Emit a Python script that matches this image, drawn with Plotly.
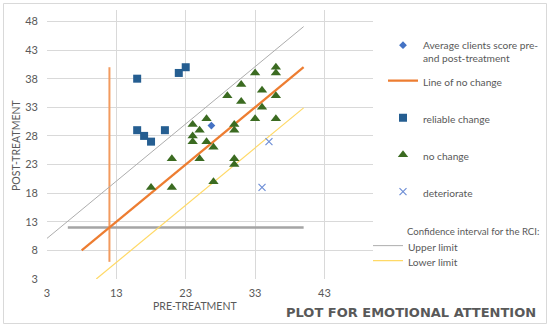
import plotly.graph_objects as go

# ---------------- data ----------------
avg_x = [26.7]
avg_y = [29.8]

reliable_x = [16, 16, 17, 18, 20, 22, 23]
reliable_y = [38, 29, 28, 27, 29, 39, 40]

nochange_x = [24, 24, 24, 25, 26, 26, 27, 29, 30, 30, 31, 31, 33, 33, 34, 34,
              36, 36, 36, 36, 21, 25, 30, 30, 27, 18, 21]
nochange_y = [30, 28, 27, 29, 31, 27, 26, 35, 30, 29, 37, 34, 39, 31, 36, 33,
              40, 39, 35, 31, 24, 24, 24, 23, 20, 19, 19]

deter_x = [35, 34]
deter_y = [27, 19]

line_nc_x = [8, 40]
line_nc_y = [8, 40]

upper_x = [3, 40]
upper_y = [10.1, 47.1]

lower_x = [10.1, 40]
lower_y = [3, 32.9]

vcut_x = [12, 12]
vcut_y = [6, 40]

hcut_x = [6, 40]
hcut_y = [12, 12]

x_ticks = [3, 13, 23, 33, 43]
y_ticks = [3, 8, 13, 18, 23, 28, 33, 38, 43, 48]

# ---------------- figure ----------------
FONT = "Lato, 'Open Sans', sans-serif"
TXT = "#595959"

W, H = 550, 327
L, R, T, B = 47, 177, 10, 48
PW, PH = W - L - R, H - T - B


def px2x(px):
    return (px - L) / PW


def px2y(py):
    return (H - B - py) / PH


fig = go.Figure()

# cut-off lines (not in legend)
fig.add_trace(go.Scatter(x=hcut_x, y=hcut_y, mode="lines",
                         line=dict(color="#A5A5A5", width=2.5),
                         showlegend=False, hoverinfo="skip"))
fig.add_trace(go.Scatter(x=vcut_x, y=vcut_y, mode="lines",
                         line=dict(color="#F29B5F", width=2),
                         showlegend=False, hoverinfo="skip"))

fig.add_trace(go.Scatter(x=upper_x, y=upper_y, mode="lines", name="Upper limit",
                         line=dict(color="#ADADAD", width=1),
                         legend="legend6"))
fig.add_trace(go.Scatter(x=lower_x, y=lower_y, mode="lines", name="Lower limit",
                         line=dict(color="#FFD966", width=1.2),
                         legend="legend7"))
fig.add_trace(go.Scatter(x=line_nc_x, y=line_nc_y, mode="lines",
                         name="Line of no change",
                         line=dict(color="#ED7D31", width=2.25),
                         legend="legend2"))

fig.add_trace(go.Scatter(x=nochange_x, y=nochange_y, mode="markers", name="no change",
                         marker=dict(symbol="triangle-up", size=9, color="#3B6B21"),
                         legend="legend4"))
fig.add_trace(go.Scatter(x=reliable_x, y=reliable_y, mode="markers", name="reliable change",
                         marker=dict(symbol="square", size=8, color="#255E91"),
                         legend="legend3"))
fig.add_trace(go.Scatter(x=deter_x, y=deter_y, mode="markers", name="deteriorate",
                         marker=dict(symbol="x-thin", size=7,
                                     line=dict(color="#6F8FD6", width=1.2)),
                         legend="legend5"))
fig.add_trace(go.Scatter(x=avg_x, y=avg_y, mode="markers",
                         name="Average clients score pre-<br>and post-treatment",
                         marker=dict(symbol="diamond", size=6, color="#4472C4"),
                         legend="legend"))

leg_font = dict(family=FONT, size=10.2, color=TXT)


def leg(xpx, ypx, **kw):
    d = dict(x=px2x(xpx), y=px2y(ypx), xanchor="left", yanchor="middle",
             bgcolor="rgba(0,0,0,0)", font=leg_font, valign="top",
             itemclick=False, itemdoubleclick=False)
    d.update(kw)
    return d


fig.update_layout(
    width=W, height=H,
    margin=dict(l=L, r=R, t=T, b=B, autoexpand=False),
    paper_bgcolor="white", plot_bgcolor="white",
    font=dict(family=FONT, color=TXT),
    legend=leg(383, 52),
    legend2=leg(383, 82),
    legend3=leg(383, 119),
    legend4=leg(383, 156),
    legend5=leg(383, 193),
    legend6=leg(368, 247),
    legend7=leg(368, 262),
    xaxis=dict(range=[3, 50], tickvals=x_ticks, showgrid=True, gridcolor="#D9D9D9",
               gridwidth=1, zeroline=False, showline=False,
               tickfont=dict(family=FONT, size=11, color=TXT), ticks="",
               ticklabelstandoff=6, automargin=False),
    yaxis=dict(range=[3, 50], tickvals=y_ticks, showgrid=True, gridcolor="#D9D9D9",
               gridwidth=1, zeroline=False, showline=False,
               tickfont=dict(family=FONT, size=11, color=TXT), ticks="",
               ticklabelstandoff=8, automargin=False),
    annotations=[
        dict(text="Confidence interval for the RCI:", x=px2x(405), y=px2y(231),
             xref="paper", yref="paper", showarrow=False,
             font=dict(family=FONT, size=9.6, color=TXT),
             xanchor="left", yanchor="middle"),
        dict(text="PRE-TREATMENT", x=px2x(195), y=px2y(306), xref="paper", yref="paper",
             showarrow=False, font=dict(family=FONT, size=10.5, color=TXT),
             xanchor="center", yanchor="middle"),
        dict(text="POST-TREATMENT", x=px2x(16), y=px2y(145), xref="paper", yref="paper",
             showarrow=False, textangle=-90, font=dict(family=FONT, size=10.5, color=TXT),
             xanchor="center", yanchor="middle"),
        dict(text="<b>PLOT FOR EMOTIONAL ATTENTION</b>", x=px2x(538), y=px2y(312.5),
             xref="paper", yref="paper", showarrow=False,
             font=dict(family="DejaVu Sans", size=13, color=TXT),
             xanchor="right", yanchor="middle"),
    ],
    shapes=[
        dict(type="rect", xref="paper", yref="paper",
             x0=px2x(3.5), x1=px2x(546.5), y0=px2y(323.5), y1=px2y(3.5),
             line=dict(color="#D9D9D9", width=1), fillcolor="rgba(0,0,0,0)", layer="below"),
    ],
)

fig.write_html("out.html", config={"displayModeBar": False},
               post_script="document.body.style.margin='0';document.body.style.overflow='hidden';")
